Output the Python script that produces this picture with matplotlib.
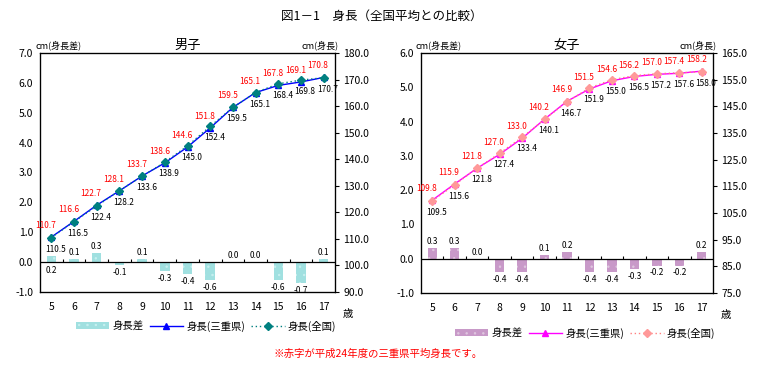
import matplotlib
matplotlib.use("Agg")
import matplotlib.pyplot as plt
from matplotlib.lines import Line2D
from matplotlib.patches import Patch
import numpy as np

plt.rcParams['font.family'] = ['Noto Sans CJK JP', 'DejaVu Sans']
plt.rcParams['hatch.linewidth'] = 0.5

ages = [5, 6, 7, 8, 9, 10, 11, 12, 13, 14, 15, 16, 17]

# 男子
boy_mie = [110.7, 116.6, 122.7, 128.1, 133.7, 138.6, 144.6, 151.8, 159.5, 165.1, 167.8, 169.1, 170.8]
boy_nat = [110.5, 116.5, 122.4, 128.2, 133.6, 138.9, 145.0, 152.4, 159.5, 165.1, 168.4, 169.8, 170.7]
boy_diff = [0.2, 0.1, 0.3, -0.1, 0.1, -0.3, -0.4, -0.6, 0.0, 0.0, -0.6, -0.7, 0.1]

# 女子
girl_mie = [109.8, 115.9, 121.8, 127.0, 133.0, 140.2, 146.9, 151.5, 154.6, 156.2, 157.0, 157.4, 158.2]
girl_nat = [109.5, 115.6, 121.8, 127.4, 133.4, 140.1, 146.7, 151.9, 155.0, 156.5, 157.2, 157.6, 158.0]
girl_diff = [0.3, 0.3, 0.0, -0.4, -0.4, 0.1, 0.2, -0.4, -0.4, -0.3, -0.2, -0.2, 0.2]

W, H = 780, 369
fig = plt.figure(figsize=(7.8, 3.69), dpi=100)


def panel(rect, title, diff, mie, nat, lim_l, lim_r, ticks_r,
          bar_fc, bar_hc, line_c, nat_c, nat_mc):
    ax = fig.add_axes(rect)
    x = np.arange(len(ages))
    ax.bar(x, diff, width=0.42, color=bar_fc, edgecolor=bar_hc, hatch='..',
           linewidth=0, zorder=2)
    ax.axhline(0, color='black', lw=0.9, zorder=3)
    ax.vlines(x[:-1] + 0.5, 0, (lim_l[1] - lim_l[0]) * 0.012, color='black', lw=0.8, zorder=3)
    ax.set_xlim(-0.5, len(ages) - 0.5)
    ax.set_ylim(*lim_l)
    ax.set_yticks(np.arange(lim_l[0], lim_l[1] + 0.01, 1.0))
    ax.set_yticklabels(['%.1f' % v for v in ax.get_yticks()], fontsize=7.5)
    ax.set_xticks(x)
    ax.set_xticklabels([str(a) for a in ages], fontsize=7.5)
    ax.tick_params(axis='x', length=0, pad=7)
    ax.tick_params(axis='y', length=0, pad=5)
    for s in ax.spines.values():
        s.set_linewidth(0.9)

    for i, d in enumerate(diff):
        if d > 0 and not (i == 0 and title == '男子'):
            ax.annotate('%.1f' % d, (i, d), xytext=(0, 1.5), textcoords='offset points',
                        ha='center', va='bottom', fontsize=6)
        elif d == 0:
            ax.annotate('%.1f' % d, (i, 0), xytext=(0, 1.5), textcoords='offset points',
                        ha='center', va='bottom', fontsize=6)
        elif d > 0:
            ax.annotate('%.1f' % d, (i, 0), xytext=(0, -3), textcoords='offset points',
                        ha='center', va='top', fontsize=6)
        else:
            ax.annotate('%.1f' % d, (i, d), xytext=(0, -2), textcoords='offset points',
                        ha='center', va='top', fontsize=6)

    ax2 = ax.twinx()
    ax2.set_ylim(*lim_r)
    ax2.set_yticks(ticks_r)
    ax2.set_yticklabels(['%.1f' % v for v in ticks_r], fontsize=7.5)
    ax2.tick_params(axis='y', length=3, width=0.8, pad=3)
    ax2.plot(x, mie, color=line_c, lw=1, marker='^', ms=4.5,
             mfc=line_c, mec=line_c, zorder=3)
    ax2.plot(x, nat, color=nat_c, ls=(0, (1, 2)), lw=1, marker='D', ms=3.8,
             mfc=nat_mc, mec=nat_mc, zorder=4)
    for i in range(len(ages)):
        ax2.annotate('%.1f' % mie[i], (i, mie[i]), xytext=(-4, 5), textcoords='offset points',
                     ha='center', va='bottom', fontsize=6, color='red')
        ax2.annotate('%.1f' % nat[i], (i, nat[i]), xytext=(3, -5), textcoords='offset points',
                     ha='center', va='top', fontsize=6, color='black')

    l, b, w, h = rect
    fig.text(l + w / 2, b + h + 8 / H, title, ha='center', va='center', fontsize=9.5)
    fig.text(l - 5 / W, b + h + 8 / H, 'cm(身長差)', ha='left', va='center', fontsize=6.5)
    fig.text(l + w + 4 / W, b + h + 8 / H, 'cm(身長)', ha='right', va='center', fontsize=6.5)
    fig.text(l + w + 8 / W, b - 22 / H, '歳', ha='left', va='center', fontsize=7.5)
    return ax


panel([40 / W, 1 - 292 / H, 295 / W, 239 / H], '男子', boy_diff, boy_mie, boy_nat,
      (-1, 7), (90, 180), np.arange(90, 181, 10),
      '#a0e0e0', '#c8f0f0', '#0000ff', '#008080', '#008080')
panel([421 / W, 1 - 293 / H, 292 / W, 240 / H], '女子', girl_diff, girl_mie, girl_nat,
      (-1, 6), (75, 165), np.arange(75, 166, 10),
      '#c899c8', '#e0c8e0', '#ff00ff', '#ff8080', '#ff9999')

fig.text(382 / W, 1 - 16 / H, '図1－1　身長（全国平均との比較）', ha='center', va='center', fontsize=9)

h_boy = [Patch(facecolor='#a0e0e0', edgecolor='#c8f0f0', hatch='..', linewidth=0),
         Line2D([], [], color='#0000ff', lw=1, marker='^', ms=4.5),
         Line2D([], [], color='#008080', ls=(0, (1, 2)), lw=1, marker='D', ms=3.8)]
h_girl = [Patch(facecolor='#c899c8', edgecolor='#e0c8e0', hatch='..', linewidth=0),
          Line2D([], [], color='#ff00ff', lw=1, marker='^', ms=4.5),
          Line2D([], [], color='#ff8080', ls=(0, (1, 2)), lw=1, marker='D', ms=3.8,
                 mfc='#ff9999', mec='#ff9999')]
names = ['身長差', '身長(三重県)', '身長(全国)']
fig.legend(h_boy, names, loc='center', bbox_to_anchor=(206 / W, 1 - 326 / H), ncol=3,
           frameon=False, fontsize=7.5, handlelength=3.2, columnspacing=0.6, handletextpad=0.3)
fig.legend(h_girl, names, loc='center', bbox_to_anchor=(585 / W, 1 - 333 / H), ncol=3,
           frameon=False, fontsize=7.5, handlelength=3.2, columnspacing=0.6, handletextpad=0.3)

fig.text(378 / W, 1 - 354 / H, '※赤字が平成24年度の三重県平均身長です。', ha='center', va='center',
         fontsize=7.5, color='red')

fig.savefig('out.png', dpi=100)
